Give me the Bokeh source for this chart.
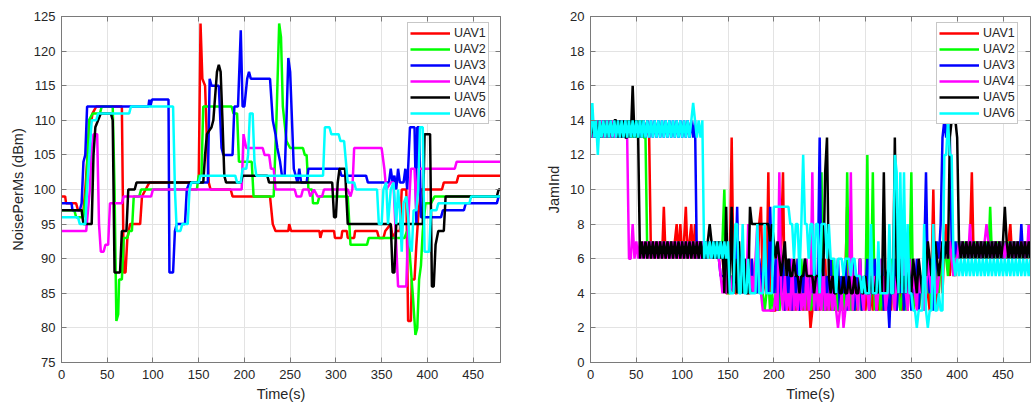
from bokeh.plotting import figure
from bokeh.layouts import row
from bokeh.models import Range1d, LinearAxis, FixedTicker, Legend, LegendItem
from bokeh.embed import file_html
from bokeh.resources import INLINE

series_names = ["UAV1", "UAV2", "UAV3", "UAV4", "UAV5", "UAV6"]
series_colors = ["#ff0000", "#00ff00", "#0000ff", "#ff00ff", "#000000", "#00ffff"]

x_ticks = [0, 50, 100, 150, 200, 250, 300, 350, 400, 450]
noise_ticks = [75, 80, 85, 90, 95, 100, 105, 110, 115, 120, 125]
jam_ticks = [0, 2, 4, 6, 8, 10, 12, 14, 16, 18, 20]

# ---- Left panel: NoisePerMs (dBm), (time, value) breakpoints ----
noise_uav1 = [(0,99),(4,99),(5,98),(16,98),(18,97),(24,97),(26,100),(30,108),(34,111),(38,112),(66,112),(67,100),(68,88),(70,88),(72,93),(75,95),(86,95),(88,99),(92,100),(96,101),(150,101),(152,124),(154,116),(157,115),(159,107),(161,101),(163,100),(185,100),(187,99),(228,99),(231,95),(234,94),(248,94),(249,95),(251,94),(282,94),(283,93),(285,94),(298,94),(299,93),(306,93),(307,94),(312,94),(313,93),(320,93),(321,94),(345,94),(347,93),(352,93),(354,94),(360,95),(362,93),(366,94),(370,94),(372,100),(377,100),(379,81),(382,81),(383,87),(386,87),(388,92),(390,96),(393,100),(416,100),(418,101),(432,101),(434,102),(480,102)]
noise_uav2 = [(0,97),(14,97),(16,96),(24,96),(27,100),(30,110),(34,111),(42,111),(44,112),(56,112),(58,100),(60,81),(62,82),(63,87),(66,87),(68,93),(72,93),(74,94),(77,94),(79,99),(85,99),(87,100),(148,100),(150,102),(153,102),(155,112),(186,112),(188,111),(192,111),(194,104),(208,104),(210,99),(232,99),(235,110),(238,124),(240,122),(242,112),(246,107),(250,106),(264,106),(266,105),(268,105),(270,100),(274,100),(275,98),(280,98),(282,99),(313,99),(316,92),(334,92),(336,93),(375,93),(378,94),(380,92),(384,85),(387,79),(389,80),(391,87),(393,89),(395,94),(398,98),(404,98),(408,99),(480,99)]
noise_uav3 = [(0,98),(11,98),(12,97),(20,97),(22,98),(24,104),(26,105),(28,112),(95,112),(96,113),(97,112),(99,113),(117,113),(118,88),(122,88),(124,94),(126,95),(135,95),(137,100),(140,101),(160,101),(162,116),(164,115),(172,115),(175,106),(177,105),(187,105),(189,112),(193,112),(196,123),(198,112),(200,112),(203,116),(205,117),(207,116),(228,116),(231,110),(234,108),(236,106),(239,104),(241,102),(244,102),(246,110),(248,119),(250,117),(252,110),(254,103),(256,102),(258,101),(260,103),(262,101),(268,101),(270,103),(304,103),(306,102),(333,102),(335,101),(358,101),(360,103),(362,101),(364,102),(366,100),(368,103),(370,101),(374,101),(376,103),(378,100),(381,109),(386,109),(388,95),(389,109),(391,109),(393,96),(415,96),(417,97),(440,97),(442,98),(476,98),(478,99),(480,99)]
noise_uav4 = [(0,94),(27,94),(29,97),(31,100),(33,106),(35,108),(39,108),(41,95),(43,91),(46,91),(48,92),(51,92),(53,98),(66,98),(68,99),(98,99),(100,100),(197,100),(199,108),(202,106),(220,106),(222,105),(227,105),(229,103),(232,103),(234,100),(255,100),(257,99),(262,99),(264,100),(270,100),(272,99),(276,100),(280,99),(285,99),(287,100),(313,100),(316,99),(318,100),(320,106),(350,106),(353,103),(355,100),(360,101),(363,101),(366,92),(368,86),(377,86),(379,95),(382,103),(386,103),(388,97),(390,103),(430,103),(432,104),(480,104)]
noise_uav5 = [(0,97),(22,97),(24,95),(33,95),(35,105),(37,109),(40,110),(43,111),(54,111),(56,110),(58,88),(64,88),(66,94),(71,94),(73,100),(80,100),(82,101),(155,101),(157,105),(159,108),(164,109),(166,110),(170,117),(172,118),(174,117),(176,110),(178,102),(180,101),(196,101),(198,102),(225,102),(227,101),(290,101),(296,101),(298,96),(300,96),(302,101),(304,103),(310,103),(313,95),(360,95),(362,88),(364,88),(366,95),(395,95),(397,108),(403,108),(405,86),(407,86),(409,92),(412,94),(418,94),(420,99),(476,99),(478,100),(480,100)]
noise_uav6 = [(0,96),(18,96),(20,95),(26,95),(28,100),(31,106),(33,110),(38,110),(40,111),(74,111),(76,112),(122,112),(124,100),(126,94),(130,94),(132,95),(138,95),(140,100),(142,101),(150,101),(152,102),(190,102),(192,101),(196,101),(198,103),(202,103),(204,105),(206,111),(209,111),(211,104),(213,102),(286,102),(288,109),(293,109),(295,108),(303,108),(305,107),(309,107),(311,104),(313,101),(320,101),(322,100),(345,100),(347,95),(350,95),(352,100),(355,101),(357,95),(360,100),(363,101),(366,95),(368,100),(370,97),(372,91),(374,98),(377,99),(379,96),(381,92),(383,91),(385,97),(388,97),(390,100),(392,109),(395,109),(397,91),(402,91),(404,97),(410,97),(412,98),(446,98),(448,99),(480,99)]

# ---- Right panel: JamInd sampled every 2 s (t = 0, 2, ..., 480) ----
jam_time = list(range(0, 481, 2))
jam_uav1 = [13,14,13,14,13,14,13,14,13,14,13,14,13,14,13,14,13,14,13,14,
            13,14,13,14,13,14,13,14,13,14,13,14,13,6,7,6,7,6,7,6,
            9,6,7,6,7,6,7,8,6,8,6,7,9,6,7,8,6,8,6,7,
            6,7,6,7,6,7,6,7,6,7,6,7,6,5,4,4,6,13,5,4,
            4,5,4,6,4,5,4,4,6,4,5,4,8,9,4,5,4,11,3,3,
            3,3,4,3,7,11,3,4,3,5,3,4,3,6,3,4,3,5,3,4,
            2,3,4,3,5,3,4,3,6,3,4,3,5,3,4,3,3,4,3,5,
            9,3,4,3,5,3,4,6,3,4,3,5,3,4,3,6,4,3,5,3,
            4,3,5,4,3,6,4,3,5,4,3,6,4,3,5,4,3,5,4,3,
            5,4,3,6,4,3,5,10,4,3,5,6,4,7,8,6,5,7,6,5,
            6,7,6,7,6,7,6,7,11,6,7,6,7,6,7,6,7,6,7,6,
            7,6,7,6,7,6,7,6,7,8,6,7,6,7,6,7,6,7,6,7,
            6]
jam_uav2 = [14,13,14,13,14,13,14,13,14,13,14,13,14,13,14,13,14,13,14,13,
            14,13,14,13,14,13,14,13,14,13,13,6,7,6,7,6,7,6,7,6,
            7,6,7,6,7,6,7,6,7,6,7,6,7,6,7,6,7,6,7,6,
            7,6,7,6,7,6,7,6,7,6,7,6,7,10,5,4,4,5,4,6,
            4,5,6,4,5,4,6,5,4,5,4,6,4,5,4,3,4,5,3,4,
            3,4,5,3,4,6,3,4,5,3,4,3,5,4,3,6,4,3,5,4,
            3,4,3,5,3,4,11,3,4,5,3,4,6,3,4,3,5,3,4,3,
            11,4,3,5,3,4,3,6,3,4,4,12,3,4,11,3,4,5,3,4,
            3,5,4,3,6,4,3,5,4,3,4,6,3,4,5,11,3,4,5,3,
            4,5,3,6,4,5,3,4,6,5,4,6,5,7,6,5,7,6,5,6,
            7,6,7,6,7,6,7,6,7,6,7,6,7,6,7,6,7,6,9,6,
            7,6,7,6,7,6,7,6,7,6,7,6,7,6,7,6,7,6,7,6,
            7]
jam_uav3 = [13,14,13,14,13,14,13,14,13,14,13,14,13,14,13,14,13,14,13,14,
            13,14,13,14,13,14,13,14,13,14,13,14,13,14,13,14,13,14,13,14,
            13,14,13,14,13,14,13,14,13,14,13,14,13,14,13,14,13,14,6,7,
            6,7,6,7,6,7,6,7,6,7,6,5,5,5,4,6,4,5,4,5,
            9,4,5,4,6,4,5,4,6,4,5,4,6,5,4,7,5,4,9,5,
            4,6,3,5,4,6,3,5,4,6,3,5,4,6,3,5,4,6,5,4,
            5,4,6,3,5,13,4,6,3,5,4,6,3,5,4,6,3,5,4,6,
            3,5,4,6,3,5,4,6,3,5,4,6,3,5,4,6,3,5,4,6,
            3,5,4,2,5,4,6,3,5,4,6,3,5,4,6,3,5,4,6,3,
            5,4,6,11,5,4,6,3,5,7,6,8,13,14,13,14,13,7,6,7,
            6,7,6,7,6,7,6,7,6,7,6,7,6,7,6,7,6,7,6,7,
            6,7,6,7,6,7,6,7,6,7,6,7,6,7,6,8,6,7,6,7,
            6]
jam_uav4 = [14,13,14,13,14,13,14,13,14,13,14,13,14,13,14,13,14,13,14,13,
            13,6,6,8,6,7,6,7,6,7,6,7,6,7,6,7,6,7,6,7,
            6,7,6,7,6,7,6,7,6,7,6,7,6,7,6,7,6,7,6,7,
            6,7,6,7,6,7,6,7,6,7,6,5,4,5,4,6,4,5,4,5,
            5,4,6,4,5,4,8,4,5,4,6,8,5,4,3,3,3,3,3,3,
            3,4,3,11,4,3,5,3,4,3,6,3,4,3,5,3,4,3,6,3,
            4,11,3,5,3,4,3,6,3,4,3,5,3,4,3,2,3,4,2,3,
            4,3,11,3,5,4,3,6,4,3,5,4,3,6,4,5,3,4,6,4,
            5,3,4,6,5,4,3,5,4,6,8,5,4,3,6,4,5,4,3,6,
            4,5,3,4,6,5,4,6,5,4,5,6,7,6,7,6,7,6,5,6,
            6,7,6,7,6,7,6,8,6,7,6,7,6,7,6,7,8,7,6,7,
            6,7,6,7,6,7,6,7,6,7,6,7,6,7,6,7,6,7,6,8,
            7]
jam_uav5 = [13,14,13,14,13,14,13,14,13,14,13,14,13,14,14,13,14,13,14,13,
            13,14,13,16,13,14,13,6,7,6,7,6,7,6,7,6,7,6,7,6,
            7,6,7,6,7,6,7,6,7,6,7,6,7,6,7,6,7,6,7,6,
            7,6,7,6,7,8,7,6,7,6,7,6,7,4,9,4,5,9,4,6,
            4,7,5,4,6,4,4,9,8,8,8,8,8,8,8,8,8,8,7,8,
            7,6,7,6,5,6,7,5,6,5,5,6,5,5,4,5,5,6,5,5,
            5,5,4,5,5,5,6,5,11,13,5,4,5,4,4,5,4,4,5,4,
            4,5,4,4,5,4,4,5,4,4,5,4,4,5,4,4,5,4,5,4,
            11,4,5,6,4,4,13,5,4,6,4,5,4,6,5,4,6,5,4,6,
            5,4,6,5,7,6,5,6,7,6,5,6,7,6,7,6,13,14,14,14,
            13,7,6,7,6,7,6,7,6,7,6,7,6,7,6,7,6,7,6,7,
            6,7,6,7,6,7,9,7,6,7,6,7,6,7,6,7,6,7,6,7,
            6]
jam_uav6 = [13,15,13,14,12,14,13,14,13,14,13,14,13,14,13,14,13,14,13,14,
            13,14,13,14,13,14,13,14,13,14,13,14,13,14,13,14,13,14,13,14,
            13,14,13,14,13,14,13,14,13,14,13,14,13,14,13,14,15,14,13,14,
            13,14,6,7,6,7,6,7,6,7,6,7,6,7,6,7,4,4,4,8,
            8,4,4,8,4,4,6,4,4,4,4,8,4,4,4,8,4,4,4,4,
            9,9,9,9,9,9,9,9,9,8,8,6,8,8,5,8,12,8,8,6,
            8,8,5,8,8,4,8,8,8,6,8,6,6,6,4,6,6,6,5,6,
            6,6,5,6,6,5,5,5,4,5,4,4,4,8,4,4,4,7,4,4,
            4,4,4,8,4,4,12,11,4,11,4,11,4,8,4,4,3,3,2,3,
            3,3,8,3,2,3,3,8,3,3,4,3,3,12,12,14,12,12,6,5,
            6,5,6,5,6,5,6,5,6,5,6,5,6,5,6,5,6,5,6,5,
            6,5,6,5,6,5,6,5,6,5,6,5,6,5,6,5,6,5,6,5,
            6]

noise_series = [noise_uav1, noise_uav2, noise_uav3, noise_uav4, noise_uav5, noise_uav6]
jam_series = [jam_uav1, jam_uav2, jam_uav3, jam_uav4, jam_uav5, jam_uav6]

FONT = "Liberation Sans"
TXT = "#262626"
FRAME = "#7a7a7a"


def make_fig(width, border_left, border_right, y_lo, y_hi, y_ticks, y_label):
    p = figure(width=width, height=405, output_backend="svg", toolbar_location=None,
               x_range=Range1d(0, 480), y_range=Range1d(y_lo, y_hi),
               min_border_left=border_left, min_border_right=border_right,
               min_border_top=16, min_border_bottom=43)
    p.background_fill_color = "white"
    p.border_fill_color = "white"
    p.outline_line_color = FRAME
    p.outline_line_width = 1
    for ax, ticks in ((p.xaxis[0], x_ticks), (p.yaxis[0], y_ticks)):
        ax.ticker = FixedTicker(ticks=ticks)
        ax.major_tick_in = 5
        ax.major_tick_out = 0
        ax.minor_tick_line_color = None
        ax.axis_line_color = FRAME
        ax.major_tick_line_color = FRAME
        ax.major_label_text_font = FONT
        ax.major_label_text_font_size = "13px"
        ax.major_label_text_color = TXT
        ax.axis_label_text_font = FONT
        ax.axis_label_text_font_size = "14.5px"
        ax.axis_label_text_font_style = "normal"
        ax.axis_label_text_color = TXT
    p.xaxis[0].axis_label = "Time(s)"
    p.xaxis[0].major_label_standoff = 7
    p.xaxis[0].axis_label_standoff = 4
    p.yaxis[0].axis_label = y_label
    p.yaxis[0].major_label_standoff = 6
    p.yaxis[0].axis_label_standoff = 5
    # box tick marks on top and right, without labels
    for side, ticks in (("above", x_ticks), ("right", y_ticks)):
        ax = LinearAxis(ticker=FixedTicker(ticks=ticks))
        ax.major_tick_in = 5
        ax.major_tick_out = 0
        ax.minor_tick_line_color = None
        ax.axis_line_color = FRAME
        ax.major_tick_line_color = FRAME
        ax.major_label_text_color = None
        ax.major_label_text_alpha = 0
        ax.major_label_text_font_size = "1px"
        ax.major_label_standoff = 0
        p.add_layout(ax, side)
    p.xgrid.ticker = FixedTicker(ticks=x_ticks)
    p.ygrid.ticker = FixedTicker(ticks=y_ticks)
    p.xgrid.grid_line_color = "#e3e3e3"
    p.ygrid.grid_line_color = "#e3e3e3"
    return p


def add_legend(p, renderers):
    items = [LegendItem(label=n, renderers=[r]) for n, r in zip(series_names, renderers)]
    leg = Legend(items=items, location=(346, 238))
    leg.label_text_font = FONT
    leg.label_text_font_size = "12.5px"
    leg.label_text_color = TXT
    leg.glyph_width = 40
    leg.glyph_height = 16
    leg.label_height = 16
    leg.label_standoff = 4
    leg.spacing = 0
    leg.padding = 2
    leg.margin = 0
    leg.border_line_color = "#909090"
    leg.border_line_width = 1
    leg.background_fill_color = "white"
    leg.background_fill_alpha = 1.0
    p.add_layout(leg)


p1 = make_fig(520, 61, 20, 75, 125, noise_ticks, "NoisePerMs (dBm)")
r1 = []
for pts, c in zip(noise_series, series_colors):
    xs = [a for a, b in pts]
    ys = [b for a, b in pts]
    r1.append(p1.line(xs, ys, line_color=c, line_width=2.5))
add_legend(p1, r1)

p2 = make_fig(515, 70, 5, 0, 20, jam_ticks, "JamInd")
r2 = []
for vals, c in zip(jam_series, series_colors):
    r2.append(p2.line(jam_time, vals, line_color=c, line_width=2.5))
add_legend(p2, r2)

layout = row(p1, p2, spacing=0)
open("out.html", "w").write(file_html(layout, INLINE))
